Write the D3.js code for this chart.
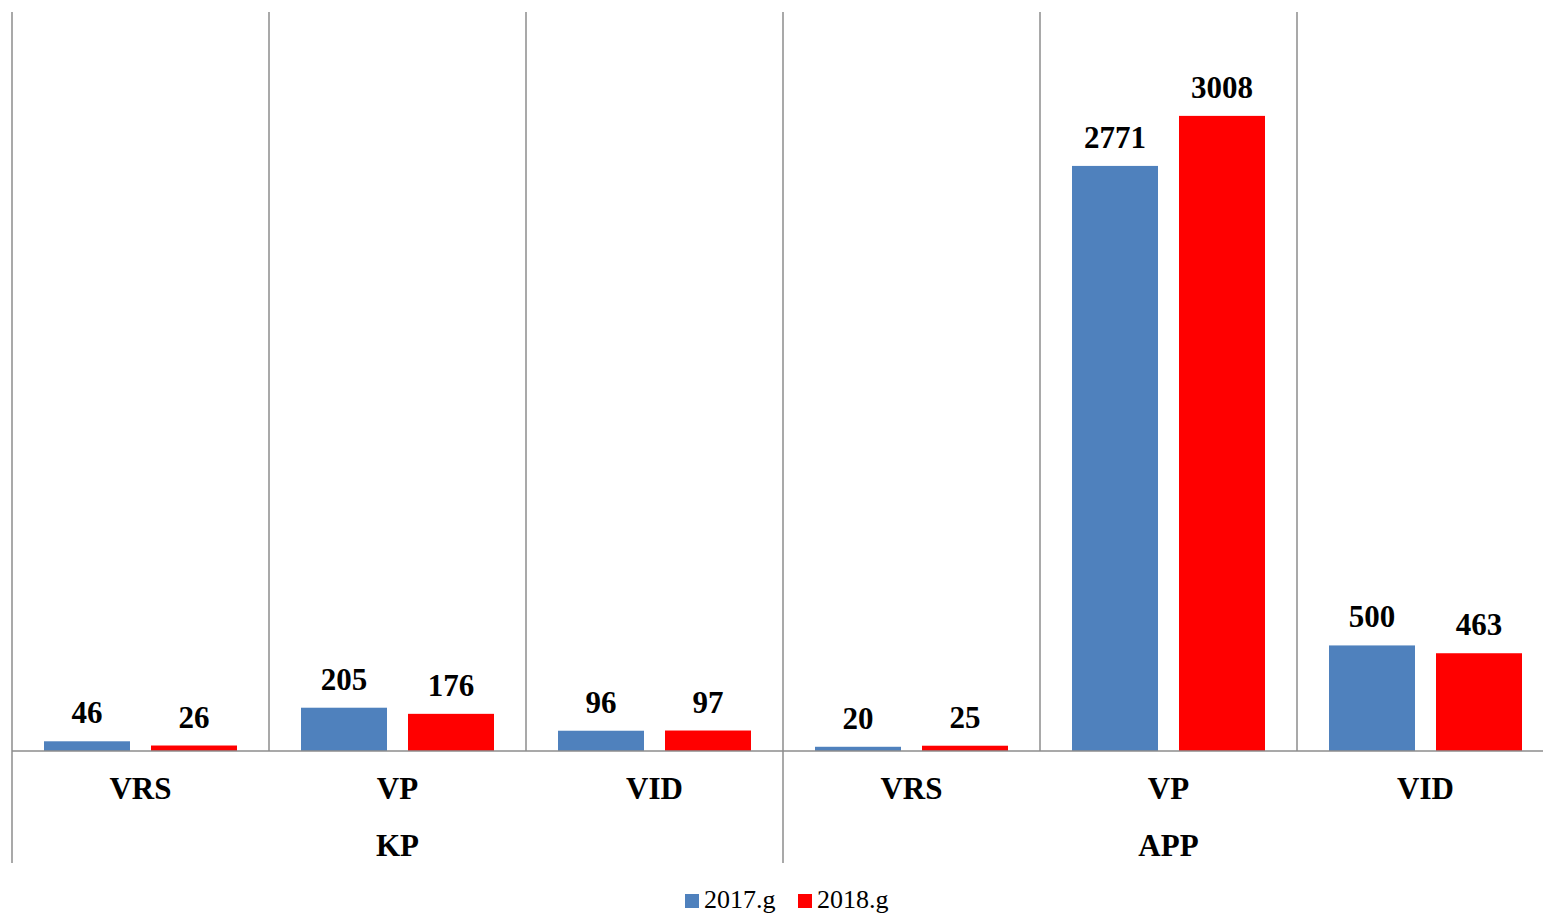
<!DOCTYPE html>
<html><head><meta charset="utf-8">
<script src="https://cdn.jsdelivr.net/npm/d3@7"></script>
<style>html,body{margin:0;padding:0;background:#fff;}svg{display:block;}
text{font-family:'Liberation Serif','Times New Roman',serif;}</style>
</head><body>
<svg id="chart" width="1543" height="913"></svg>
<script>
const groups = ["KP", "APP"];
const categories = ["VRS", "VP", "VID", "VRS", "VP", "VID"];
const categoryGroup = [0, 0, 0, 1, 1, 1];
const seriesNames = ["2017.g", "2018.g"];
const values2017 = [46, 205, 96, 20, 2771, 500];
const values2018 = [26, 176, 97, 25, 3008, 463];
const colors = ["#4F81BD", "#FF0000"];
const yMax = 3500;

(function () {
const svg = d3.select("#chart");
const plotLeft = 12, catW = 257, base = 751, plotTop = 12;
const x = d3.scaleBand().domain(d3.range(categories.length)).range([plotLeft, plotLeft + catW * categories.length]).paddingInner(0).paddingOuter(0);
const xs = d3.scaleBand().domain([0, 1]).range([0, catW]).paddingInner(21 / 107).paddingOuter(32 / 107);
const y = d3.scaleLinear().domain([0, yMax]).range([base, plotTop]);

const gridColor = "#8c8c8c";
categories.forEach((c, i) => {
  const isGroupStart = i === 0 || categoryGroup[i] !== categoryGroup[i - 1];
  svg.append("line").attr("x1", x(i)).attr("x2", x(i)).attr("y1", plotTop).attr("y2", isGroupStart ? 863 : base)
    .attr("stroke", gridColor).attr("stroke-width", 1.5);
});
svg.append("line").attr("x1", plotLeft + catW * 6).attr("x2", plotLeft + catW * 6).attr("y1", plotTop).attr("y2", 863)
  .attr("stroke", gridColor).attr("stroke-width", 1.5);

const series = [values2017, values2018];
series.forEach((vals, s) => {
  svg.append("g").selectAll("rect").data(vals).join("rect")
    .attr("x", (d, i) => x(i) + xs(s)).attr("width", xs.bandwidth())
    .attr("y", d => y(d)).attr("height", d => base - y(d))
    .attr("fill", colors[s]);
  svg.append("g").selectAll("text").data(vals).join("text")
    .attr("x", (d, i) => x(i) + xs(s) + xs.bandwidth() / 2)
    .attr("y", d => y(d) - 18)
    .attr("text-anchor", "middle")
    .attr("font-weight", "bold").attr("font-size", 31)
    .text(d => d);
});

svg.append("line").attr("x1", plotLeft).attr("x2", 1543).attr("y1", base).attr("y2", base)
  .attr("stroke", gridColor).attr("stroke-width", 1.5);

svg.append("g").selectAll("text").data(categories).join("text")
  .attr("x", (d, i) => x(i) + catW / 2).attr("y", 799)
  .attr("text-anchor", "middle")
  .attr("font-weight", "bold").attr("font-size", 31)
  .text(d => d);

groups.forEach((g, gi) => {
  const idx = categoryGroup.map((v, i) => v === gi ? i : -1).filter(i => i >= 0);
  const cx = (x(idx[0]) + x(idx[idx.length - 1]) + catW) / 2;
  svg.append("text").attr("x", cx).attr("y", 856).attr("text-anchor", "middle")
    .attr("font-weight", "bold").attr("font-size", 31).text(g);
});

const legendX = [685, 798];
seriesNames.forEach((n, i) => {
  svg.append("rect").attr("x", legendX[i]).attr("y", 894).attr("width", 14).attr("height", 14).attr("fill", colors[i]);
  svg.append("text").attr("x", legendX[i] + 19).attr("y", 908)
    .attr("font-size", 26).text(n);
});
})();
</script>
</body></html>
